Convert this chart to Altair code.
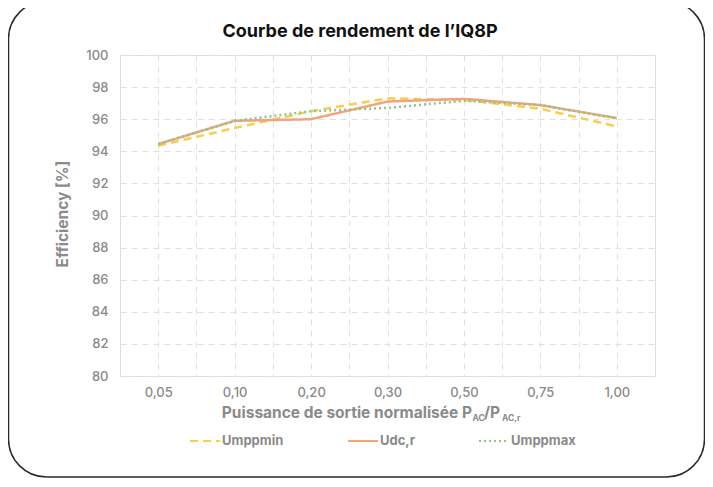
import json
import altair as alt
import pandas as pd

categories = ["0,05", "0,10", "0,20", "0,30", "0,50", "0,75", "1,00"]
series_names = ["Umppmin", "Udc,r", "Umppmax"]
umppmin = [94.35, 95.45, 96.5, 97.3, 97.2, 96.65, 95.55]
udcr = [94.45, 95.9, 96.0, 97.1, 97.27, 96.88, 96.07]
umppmax = [94.45, 95.9, 96.5, 96.7, 97.15, 96.88, 96.05]
y_ticks = list(range(80, 101, 2))

rows = []
for name, vals in zip(series_names, [umppmin, udcr, umppmax]):
    for i, v in enumerate(vals):
        rows.append({"idx": i, "cat": categories[i], "series": name, "eff": v})
df = pd.DataFrame(rows)

FONT = "Inter"
GREY = "#8a8a8a"
GRID = "#e0e0e0"

x_values = [i * 0.5 for i in range(0, 13)]
label_expr = "datum.value % 1 === 0 ? " + json.dumps(categories) + "[datum.value] : ''"

legend_kw = dict(title=None, orient="none", legendX=69, legendY=370,
                 direction="horizontal", symbolType="stroke", symbolSize=900,
                 symbolStrokeWidth=2, columnPadding=60, labelFontSize=13,
                 labelColor=GREY, labelFont=FONT, labelFontWeight="bold",
                 labelOffset=1)

lines = alt.Chart(df).mark_line(strokeWidth=2.5).encode(
    x=alt.X("idx:Q", scale=alt.Scale(domain=[-0.5, 6.5], nice=False, zero=False),
            axis=alt.Axis(values=x_values, labelExpr=label_expr, title=None,
                          grid=True, gridDash=[6, 5], gridColor=GRID, ticks=False,
                          domain=False, labelPadding=10, labelFontSize=13,
                          labelColor=GREY, labelFont=FONT, labelFontWeight=500)),
    y=alt.Y("eff:Q", scale=alt.Scale(domain=[80, 100], nice=False, zero=False),
            axis=alt.Axis(values=y_ticks, title=None, grid=True, gridDash=[6, 5],
                          gridColor=GRID, ticks=False, domain=False, labelPadding=12,
                          labelFontSize=13, labelColor=GREY, labelFont=FONT,
                          labelFontWeight=500)),
    color=alt.Color("series:N",
                    scale=alt.Scale(domain=series_names, range=["#f9cd4f", "#f3a47c", "#8cc78a"]),
                    legend=alt.Legend(**legend_kw)),
    strokeDash=alt.StrokeDash("series:N",
                              scale=alt.Scale(domain=series_names,
                                              range=[[8, 5], [1, 0], [2, 3]]),
                              legend=alt.Legend(**legend_kw)),
    detail="series:N",
)

one = alt.Data(values=[{"a": 1}])

title = alt.Chart(one).mark_text(text="Courbe de rendement de l\u2019IQ8P", font=FONT,
                                 fontSize=18, fontWeight="bold", color="#111111",
                                 align="center", baseline="alphabetic").encode(
    x=alt.value(240), y=alt.value(-18))

ytitle = alt.Chart(one).mark_text(text="Efficiency [%]", font=FONT, fontSize=15.5,
                                  fontWeight="bold", color=GREY, angle=270,
                                  align="center", baseline="middle").encode(
    x=alt.value(-57), y=alt.value(159))

xt_main = alt.Chart(one).mark_text(text="Puissance de sortie normalisée P", font=FONT,
                                   fontSize=15.5, fontWeight="bold", color=GREY,
                                   align="right", baseline="alphabetic").encode(
    x=alt.value(352), y=alt.value(363))
xt_sub1 = alt.Chart(one).mark_text(text="AC", font=FONT, fontSize=8.5, fontWeight="bold",
                                   color=GREY, align="left", baseline="alphabetic").encode(
    x=alt.value(352.5), y=alt.value(366))
xt_mid = alt.Chart(one).mark_text(text="/P", font=FONT, fontSize=15.5, fontWeight="bold",
                                  color=GREY, align="left", baseline="alphabetic").encode(
    x=alt.value(364), y=alt.value(363))
xt_sub2 = alt.Chart(one).mark_text(text="AC,r", font=FONT, fontSize=8.5, fontWeight="bold",
                                   color=GREY, align="left", baseline="alphabetic").encode(
    x=alt.value(382), y=alt.value(366))

card = alt.Chart(one).mark_rect(fillOpacity=0, stroke="#2a2a2a", strokeWidth=1.5,
                                cornerRadius=38, clip=False).encode(
    x=alt.value(-111.5), x2=alt.value(584.5), y=alt.value(-54), y2=alt.value(422))

chart = alt.layer(card, lines, title, ytitle, xt_main, xt_sub1, xt_mid, xt_sub2).properties(
    width=535, height=321,
    padding={"left": 112, "top": 47, "right": 50, "bottom": 103},
    autosize=alt.AutoSizeParams(type="none"),
).configure_view(stroke="#e6e6e6", strokeWidth=1.5).configure(background="white")

chart.save("out.html", embed_options={"renderer": "svg", "actions": False})
